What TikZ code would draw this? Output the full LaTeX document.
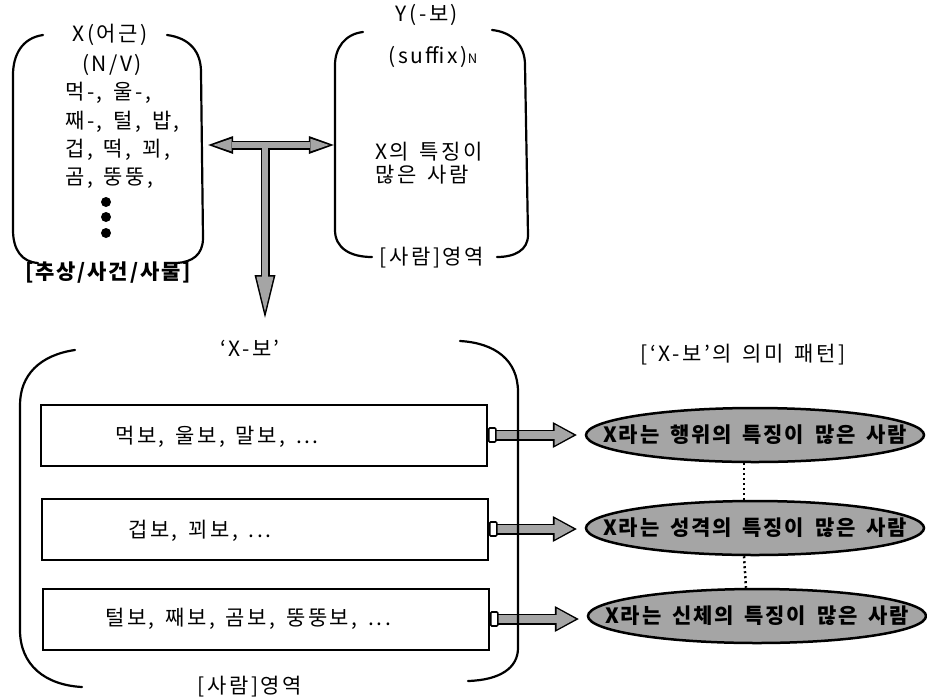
\documentclass[tikz,border=0pt]{standalone}
\usepackage{fontspec}
\setmainfont{Noto Sans CJK KR}
\newfontfamily\krtxt[LetterSpace=12,WordSpace=1.5]{Noto Sans CJK KR}
\newfontfamily\krell[LetterSpace=9,WordSpace=1.6]{Noto Sans CJK KR}
\usetikzlibrary{arrows.meta,shapes.geometric,calc}
\definecolor{stip}{RGB}{165,165,165}

\tikzset{
  txt/.style={inner sep=0pt,font=\krtxt\fontsize{21}{23}\selectfont},
  paren/.style={line width=2.2pt,line cap=round},
  region/.style={inner sep=0pt,minimum height=236pt},
  rowbox/.style={draw,line width=2pt,minimum width=446pt,minimum height=61pt},
  stub/.style={draw,fill=white,line width=1.6pt,rounded corners=1pt,minimum width=7pt,minimum height=14pt,inner sep=0pt},
  dotmark/.style={circle,fill,minimum size=10pt,inner sep=0pt},
  pattern ellipse/.style={ellipse,draw,line width=2.5pt,fill=stip,minimum width=338pt,minimum height=54pt,inner sep=0pt},
  elltxt/.style={inner sep=0pt,font=\krell\fontsize{21}{23}\selectfont\bfseries},
  fatout/.style={line width=11pt,shorten >=8pt,-{Triangle[length=24pt,width=26pt,line width=0pt]}},
  fatin/.style={stip,line width=8pt,shorten >=11.2pt,-{Triangle[length=19pt,width=21pt,line width=0pt]}}
}

\begin{document}
\begin{tikzpicture}[x=1pt,y=-1pt]
  \useasboundingbox (0,0) rectangle (927,697);

  % X (root) group
  \node[region,minimum width=195pt] (xbox) at (110.5,145) {};
  \node[txt] (xhead) at (110,35) {X(어근)};
  \node[txt] (xnv) at (112,65) {(N/V)};
  \foreach \l/\y [count=\i] in {{먹-, 울-,}/93,{째-, 털, 밥,}/122,{겁, 떡, 꾀,}/150,{곰, 뚱뚱,}/178}
    \node[txt,anchor=west] (xl\i) at (65,\y) {\l};
  \foreach \y [count=\i] in {202,217,233} \node[dotmark] (dot\i) at (106,\y) {};
  \node[txt,font=\krell\fontsize{21}{23}\selectfont\bfseries] (xdom) at (108,273) {[추상/사건/사물]};
  \draw[paren] (43,35) .. controls (22,38) and (13,55) .. (13,75) -- (13,230) .. controls (13,250) and (22,262) .. (38,263);
  \draw[paren] (167,35) .. controls (190,38) and (201,52) .. (201,72) -- (203,238) .. controls (203,255) and (192,262) .. (177,263);

  % Y (suffix) group
  \node[region,minimum width=194pt] (ybox) at (431,145) {};
  \node[txt] (yhead) at (427,15) {Y(-보)};
  \node[txt] (ysuf) at (433,57) {(suffix){\fontsize{13}{13}\selectfont N}};
  \node[txt,anchor=west] (ym1) at (375,152) {X의 특징이};
  \node[txt,anchor=west] (ym2) at (375,175) {많은 사람};
  \node[txt] (ydom) at (432,258) {[사람]영역};
  \draw[paren] (363,32) .. controls (345,34) and (335,48) .. (335,65) -- (335,230) .. controls (335,248) and (350,257) .. (372,257);
  \draw[paren] (492,30) .. controls (512,32) and (525,45) .. (525,65) -- (528,235) .. controls (528,250) and (515,257) .. (497,257);

  % T-shaped arrows
  \coordinate (tj) at (265,145);
  \coordinate (tend) at (265,318);
  \draw[line width=9pt,{Triangle[length=25pt,width=18pt,line width=0pt]}-{Triangle[length=25pt,width=18pt,line width=0pt]}] (xbox.east) -- (ybox.west);
  \draw[line width=9pt,-{Triangle[length=43pt,width=21pt,line width=0pt]}] (tj) -- (tend);
  \draw[stip,line width=6pt,shorten <=4.7pt,shorten >=4.7pt,{Triangle[length=18.8pt,width=12.8pt,line width=0pt]}-{Triangle[length=18.8pt,width=12.8pt,line width=0pt]}] (xbox.east) -- (ybox.west);
  \draw[stip,line width=6pt,shorten >=6.3pt,-{Triangle[length=35pt,width=17pt,line width=0pt]}] (tj) -- (tend);

  % X-bo group
  \node[txt] (xbo) at (250,348) {‘X-보’};
  \node[txt] (xbodom) at (250,687) {[사람]영역};
  \node[rowbox] (r1) at (264,435) {};
  \node[rowbox] (r2) at (265,529) {};
  \node[rowbox] (r3) at (266,619) {};
  \node[txt,anchor=west] (w1) at (115,437) {먹보, 울보, 말보, ...};
  \node[txt,anchor=west] (w2) at (128,531) {겁보, 꾀보, ...};
  \node[txt,anchor=west] (w3) at (105,619) {털보, 째보, 곰보, 뚱뚱보, ...};

  % meaning patterns
  \node[txt] (pat) at (743,355) {[‘X-보’의 의미 패턴]};
  \node[pattern ellipse] (e1) at (755,435) {};
  \node[pattern ellipse] (e2) at (755,528) {};
  \node[pattern ellipse] (e3) at (757,616) {};
  \node[elltxt] (m1) at (e1) {X라는 행위의 특징이 많은 사람};
  \node[elltxt] (m2) at (e2) {X라는 성격의 특징이 많은 사람};
  \node[elltxt] (m3) at (e3) {X라는 신체의 특징이 많은 사람};
  \draw[line width=2.5pt,dash pattern=on 2pt off 3pt] ([xshift=-11pt]e1.south) -- ([xshift=-11pt]e2.north);
  \draw[line width=2.5pt,dash pattern=on 2pt off 3pt] ([xshift=-11pt]e2.south) -- ([xshift=-11pt]e3.north);

  \foreach \i in {1,2,3} {
    \coordinate (s\i) at ($(r\i.east)+(7,0)$);
    \draw[fatout] (s\i) -- (s\i -| e\i.west);
    \draw[fatin] (s\i) -- (s\i -| e\i.west);
    \node[stub,anchor=west] (c\i) at (r\i.east) {};
  }

  \draw[paren] (75,350) .. controls (40,355) and (20,375) .. (20,405) -- (20,630) .. controls (20,665) and (45,685) .. (82,687);
  \draw[paren] (460,341) .. controls (495,343) and (518,360) .. (518,392) -- (518,648) .. controls (518,668) and (500,680) .. (468,681);
\end{tikzpicture}
\end{document}
